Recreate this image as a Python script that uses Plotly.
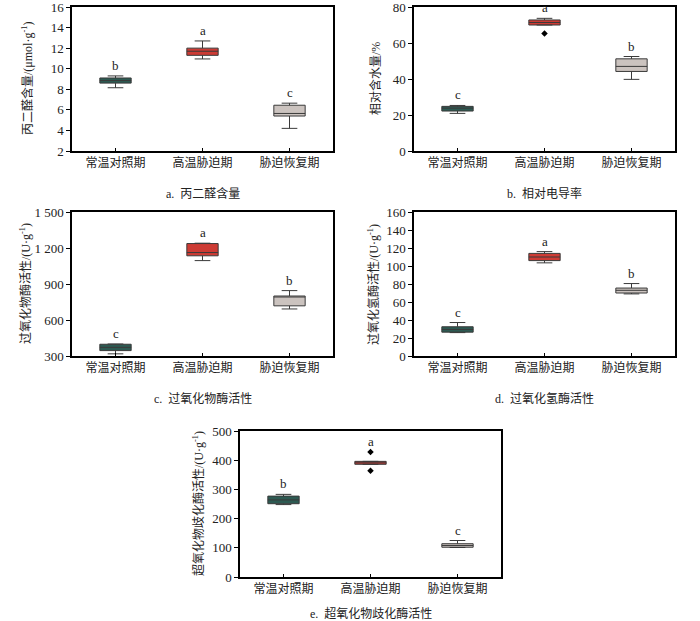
import plotly.graph_objects as go

# ---------------- data ----------------
categories = ["常温对照期", "高温胁迫期", "胁迫恢复期"]
colors = ["#2d5a52", "#cd3b34", "#cbc3bf"]

# a. 丙二醛含量
mda_q1 = [8.6, 11.3, 5.4]
mda_med = [8.85, 11.7, 5.65]
mda_q3 = [9.1, 12.0, 6.45]
mda_lo = [8.15, 10.95, 4.2]
mda_hi = [9.3, 12.7, 6.65]
mda_out_x, mda_out_y = [], []
mda_letters = ["b", "a", "c"]

# b. 相对含水量
rwc_q1 = [22.2, 70.0, 44.2]
rwc_med = [23.8, 71.4, 47.0]
rwc_q3 = [24.8, 72.8, 51.2]
rwc_lo = [20.9, 70.0, 39.8]
rwc_hi = [25.3, 73.7, 52.5]
rwc_out_x, rwc_out_y = ["高温胁迫期"], [65.3]
rwc_letters = ["c", "a", "b"]

# c. 过氧化物酶活性
pod_q1 = [345, 1135, 718]
pod_med = [372, 1162, 795]
pod_q3 = [398, 1237, 800]
pod_lo = [318, 1095, 692]
pod_hi = [400, 1240, 845]
pod_out_x, pod_out_y = [], []
pod_letters = ["c", "a", "b"]

# d. 过氧化氢酶活性
cat_q1 = [26.5, 106.0, 70.0]
cat_med = [29.5, 110.0, 73.0]
cat_q3 = [32.5, 114.0, 75.5]
cat_lo = [26.0, 103.5, 69.0]
cat_hi = [37.2, 116.0, 80.5]
cat_out_x, cat_out_y = [], []
cat_letters = ["c", "a", "b"]

# e. 超氧化物歧化酶活性
sod_q1 = [251, 386, 102]
sod_med = [264, 391, 108]
sod_q3 = [277, 396, 114]
sod_lo = [248, 386, 101]
sod_hi = [283, 396, 125]
sod_out_x, sod_out_y = ["高温胁迫期", "高温胁迫期"], [428, 364]
sod_letters = ["b", "a", "c"]

y_ranges = [[2, 16], [0, 80], [300, 1500], [0, 160], [0, 500]]
y_dticks = [2, 20, 300, 20, 100]
y_titles = [
    "丙二醛含量/(μmol·g<sup>-1</sup>)",
    "相对含水量/%",
    "过氧化物酶活性/(U·g<sup>-1</sup>)",
    "过氧化氢酶活性/(U·g<sup>-1</sup>)",
    "超氧化物歧化酶活性/(U·g<sup>-1</sup>)",
]
captions = ["a.  丙二醛含量", "b.  相对电导率", "c.  过氧化物酶活性", "d.  过氧化氢酶活性", "e.  超氧化物歧化酶活性"]

panels = [
    (mda_q1, mda_med, mda_q3, mda_lo, mda_hi, mda_out_x, mda_out_y, mda_letters),
    (rwc_q1, rwc_med, rwc_q3, rwc_lo, rwc_hi, rwc_out_x, rwc_out_y, rwc_letters),
    (pod_q1, pod_med, pod_q3, pod_lo, pod_hi, pod_out_x, pod_out_y, pod_letters),
    (cat_q1, cat_med, cat_q3, cat_lo, cat_hi, cat_out_x, cat_out_y, cat_letters),
    (sod_q1, sod_med, sod_q3, sod_lo, sod_hi, sod_out_x, sod_out_y, sod_letters),
]

# ---------------- layout geometry (pixels in 700x621) ----------------
W, H = 700, 621
px_boxes = [  # (left, right, top, bottom)
    (72, 333, 7, 151),
    (414, 675, 7, 151),
    (72, 333, 212, 356),
    (414, 675, 212, 356),
    (240, 501, 431, 577),
]
ytitle_x = [27, 375, 25, 373, 198]
caption_y = [193, 193, 398, 398, 613]

SERIF = "Liberation Serif, Noto Sans CJK SC"
line_col = "#3a3a3a"

fig = go.Figure()
annotations = []
layout = {}

for i, (q1, med, q3, lo, hi, ox, oy, letters) in enumerate(panels):
    n = i + 1
    xa = "x" if n == 1 else f"x{n}"
    ya = "y" if n == 1 else f"y{n}"
    for j, cat in enumerate(categories):
        fig.add_trace(go.Box(
            x=[cat], q1=[q1[j]], median=[med[j]], q3=[q3[j]],
            lowerfence=[lo[j]], upperfence=[hi[j]],
            fillcolor=colors[j], line=dict(color=line_col, width=1),
            width=0.36, whiskerwidth=0.5, boxpoints=False,
            xaxis=xa, yaxis=ya, showlegend=False, hoverinfo="skip",
        ))
    if ox:
        fig.add_trace(go.Scatter(
            x=ox, y=oy, mode="markers",
            marker=dict(symbol="diamond", size=5, color="black"),
            xaxis=xa, yaxis=ya, showlegend=False, hoverinfo="skip",
        ))
    for j, cat in enumerate(categories):
        top = hi[j]
        for xx, yy in zip(ox, oy):
            if xx == cat:
                top = max(top, yy)
        annotations.append(dict(
            x=cat, y=top, xref=xa, yref=ya, text=letters[j], showarrow=False,
            yanchor="bottom", yshift=1,
            font=dict(family=SERIF, size=13, color="#222"),
        ))

    l, r, t, b = px_boxes[i]
    key_x = "xaxis" if n == 1 else f"xaxis{n}"
    key_y = "yaxis" if n == 1 else f"yaxis{n}"
    layout[key_x] = dict(
        domain=[l / W, r / W], anchor=ya, type="category",
        categoryorder="array", categoryarray=categories,
        range=[-0.5, 2.5], showgrid=False, zeroline=False,
        showline=True, linecolor="black", linewidth=1.5, mirror=True,
        ticks="inside", ticklen=3, tickcolor="black",
        tickfont=dict(family=SERIF, size=12, color="#222"),
    )
    layout[key_y] = dict(
        domain=[1 - b / H, 1 - t / H], anchor=xa,
        range=y_ranges[i], dtick=y_dticks[i], tick0=y_ranges[i][0],
        showgrid=False, zeroline=False,
        showline=True, linecolor="black", linewidth=1.5, mirror=True,
        ticks="outside", ticklen=4, tickcolor="black",
        tickformat=",d", ticklabeloverflow="allow",
        tickfont=dict(family=SERIF, size=13, color="#222"),
    )
    annotations.append(dict(
        x=ytitle_x[i] / W, y=1 - (t + b) / 2 / H, xref="paper", yref="paper",
        text=y_titles[i], textangle=-90, showarrow=False,
        xanchor="center", yanchor="middle",
        font=dict(family=SERIF, size=12, color="#222"),
    ))
    annotations.append(dict(
        x=(l + r) / 2 / W, y=1 - caption_y[i] / H, xref="paper", yref="paper",
        text=captions[i], showarrow=False, xanchor="center", yanchor="middle",
        font=dict(family=SERIF, size=12, color="#222"),
    ))

fig.update_layout(
    width=W, height=H,
    margin=dict(l=0, r=0, t=0, b=0, autoexpand=False),
    paper_bgcolor="white", plot_bgcolor="white",
    separators=". ",
    boxmode="overlay",
    annotations=annotations,
    **layout,
)

fig.write_html(
    "out.html",
    config={"displayModeBar": False},
    post_script="document.body.style.margin='0';document.body.style.overflow='hidden';",
)
